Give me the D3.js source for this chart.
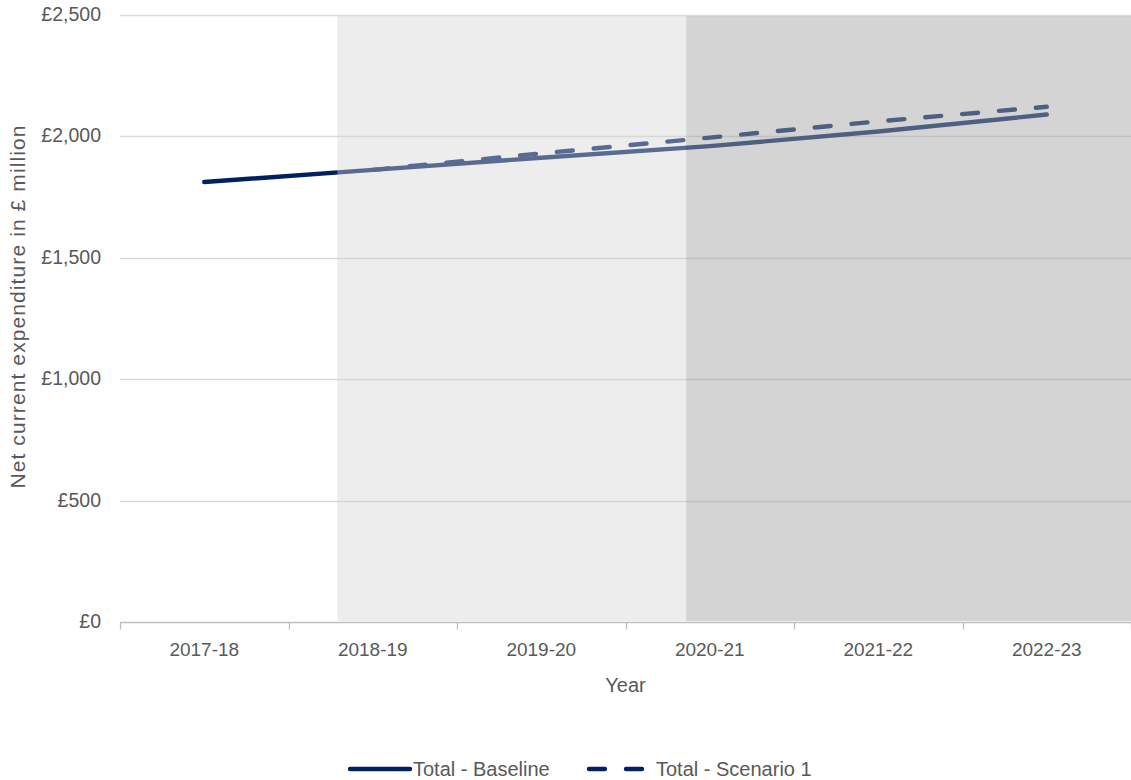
<!DOCTYPE html>
<html>
<head>
<meta charset="utf-8">
<script src="https://cdn.jsdelivr.net/npm/d3@7"></script>
<style>
  html, body { margin: 0; padding: 0; background: #ffffff; }
  svg text { font-family: "Liberation Sans", Arial, sans-serif; }
</style>
</head>
<body>
<svg id="chart" width="1131" height="780"></svg>
<script>
// Financial years on the x axis
const years = ["2017-18", "2018-19", "2019-20", "2020-21", "2021-22", "2022-23"];

// Net current expenditure, £ million
const baselineValues = [1812, 1862, 1912, 1960, 2020, 2090];
const scenario1Values = [null, 1862, 1930, 1995, 2062, 2122];

// Y axis ticks
const yTicks = [0, 500, 1000, 1500, 2000, 2500];

// Shaded periods, in units of year-bands from the left of the axis
const shadeFrom = [1.29, 3.36];
const shadeTo = [3.36, 6];
const shadeFill = ["#d4d4d4", "#a6a6a6"];
const shadeOpacity = [0.42, 0.48];

const navy = "#002060";

const svg = d3.select("#chart");
const margin = { left: 120, right: 0, top: 15, bottom: 158 };
const W = 1131, H = 780;

const x = d3.scaleBand().domain(years).range([margin.left, W - margin.right]).paddingInner(0).paddingOuter(0);
const bandUnits = d3.scaleLinear().domain([0, years.length]).range([margin.left, W - margin.right]);
const y = d3.scaleLinear().domain([0, 2500]).range([H - margin.bottom, margin.top]);
const cx = d => x(d) + x.bandwidth() / 2;

// Gridlines
svg.append("g").selectAll("line").data(yTicks.filter(t => t > 0)).join("line")
  .attr("x1", margin.left).attr("x2", W - margin.right)
  .attr("y1", d => Math.round(y(d)) + 0.5).attr("y2", d => Math.round(y(d)) + 0.5)
  .attr("stroke", "#d9d9d9").attr("stroke-width", 1.3);

// Series lines
const line = d3.line()
  .defined(d => d.v != null)
  .x(d => cx(d.year))
  .y(d => y(d.v));

const scenarioData = years.map((yr, i) => ({ year: yr, v: scenario1Values[i] }));
const baselineData = years.map((yr, i) => ({ year: yr, v: baselineValues[i] }));

svg.append("path").datum(scenarioData)
  .attr("d", line).attr("fill", "none")
  .attr("stroke", navy).attr("stroke-width", 4.4)
  .attr("stroke-dasharray", "16 21").attr("stroke-linecap", "round");

svg.append("path").datum(baselineData)
  .attr("d", line).attr("fill", "none")
  .attr("stroke", navy).attr("stroke-width", 4.4)
  .attr("stroke-linecap", "round").attr("stroke-linejoin", "round");

// Shaded periods drawn over the lines
svg.append("g").selectAll("rect").data(shadeFrom.map((f, i) => i)).join("rect")
  .attr("x", i => bandUnits(shadeFrom[i]))
  .attr("width", i => bandUnits(shadeTo[i]) - bandUnits(shadeFrom[i]))
  .attr("y", y(2500) + 1)
  .attr("height", y(0) - y(2500) - 2)
  .attr("fill", i => shadeFill[i])
  .attr("fill-opacity", i => shadeOpacity[i]);

// X axis
const xAxis = svg.append("g").attr("transform", `translate(0,${Math.round(y(0)) + 0.5})`);
xAxis.append("line").attr("x1", margin.left).attr("x2", W - margin.right)
  .attr("stroke", "#bfbfbf").attr("stroke-width", 1.3);
xAxis.selectAll("line.tick").data(d3.range(years.length + 1)).join("line").attr("class", "tick")
  .attr("x1", i => Math.round(bandUnits(i)) + 0.5).attr("x2", i => Math.round(bandUnits(i)) + 0.5)
  .attr("y1", 0).attr("y2", 7).attr("stroke", "#bfbfbf").attr("stroke-width", 1.3);
xAxis.selectAll("text").data(years).join("text")
  .attr("x", d => cx(d)).attr("y", 33)
  .attr("text-anchor", "middle").attr("fill", "#595959").attr("font-size", 19)
  .text(d => d);

// Y axis labels
const fmt = d => "£" + d3.format(",")(d);
svg.append("g").selectAll("text").data(yTicks).join("text")
  .attr("x", 101).attr("y", d => y(d) + 6)
  .attr("text-anchor", "end").attr("fill", "#595959").attr("font-size", 19.5)
  .text(fmt);

// Axis titles
svg.append("text")
  .attr("x", (bandUnits(0) + bandUnits(years.length)) / 2)
  .attr("y", 692).attr("text-anchor", "middle")
  .attr("fill", "#595959").attr("font-size", 20).text("Year");

svg.append("text")
  .attr("transform", `translate(25,${(y(0) + y(2500)) / 2 - 12}) rotate(-90)`)
  .attr("text-anchor", "middle").attr("fill", "#595959").attr("font-size", 21)
  .attr("letter-spacing", 1.1)
  .text("Net current expenditure in £ million");

// Legend
const legend = svg.append("g").attr("transform", "translate(0,769)");
legend.append("line").attr("x1", 350).attr("x2", 410).attr("y1", 0).attr("y2", 0)
  .attr("stroke", navy).attr("stroke-width", 4.4).attr("stroke-linecap", "round");
legend.append("text").attr("x", 413).attr("y", 7).attr("fill", "#595959").attr("font-size", 20)
  .text("Total - Baseline");
legend.append("line").attr("x1", 589).attr("x2", 649).attr("y1", 0).attr("y2", 0)
  .attr("stroke", navy).attr("stroke-width", 4.4).attr("stroke-linecap", "round")
  .attr("stroke-dasharray", "16 21");
legend.append("text").attr("x", 656).attr("y", 7).attr("fill", "#595959").attr("font-size", 20)
  .text("Total - Scenario 1");
</script>
</body>
</html>
